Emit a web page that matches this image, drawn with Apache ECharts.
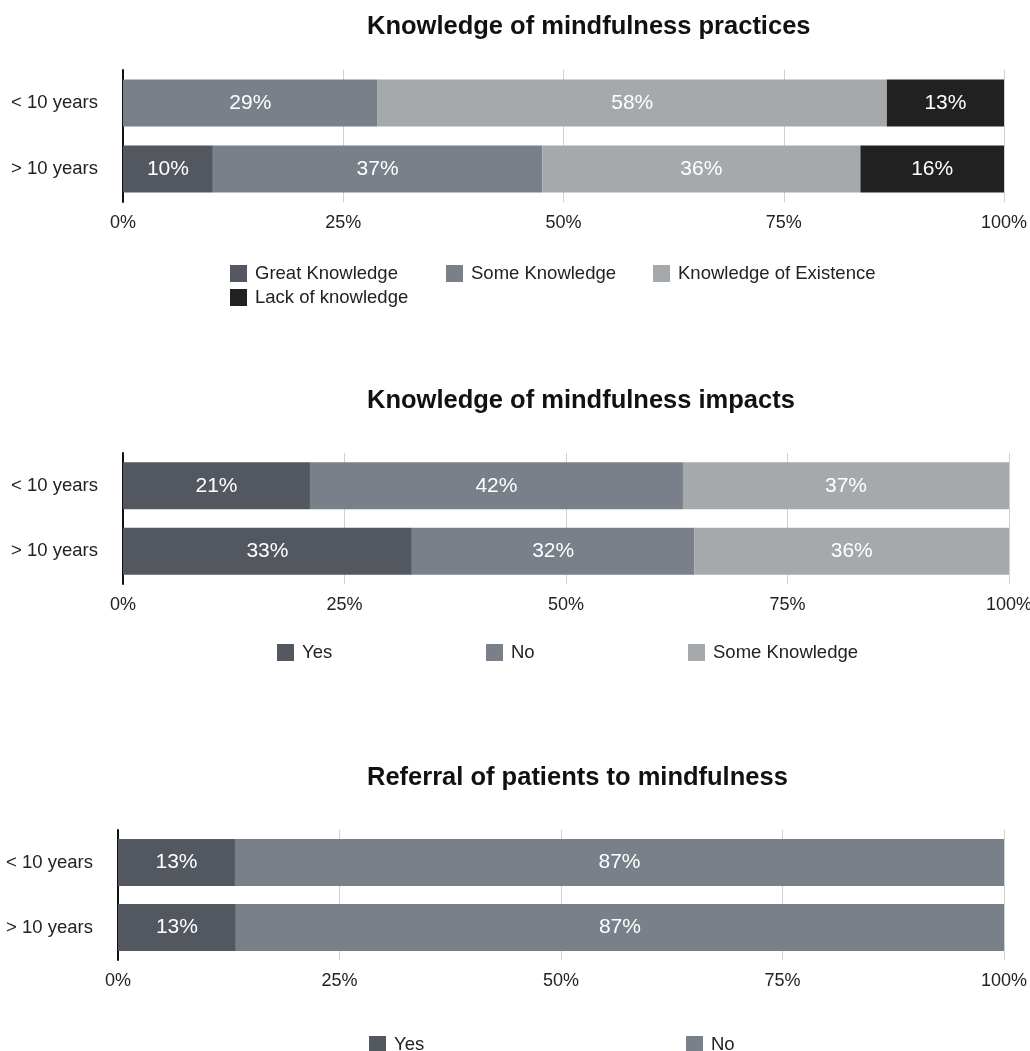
<!DOCTYPE html>
<html>
<head>
<meta charset="utf-8">
<script src="https://cdn.jsdelivr.net/npm/echarts@6/dist/echarts.min.js"></script>
<style>
  html, body { margin: 0; padding: 0; background: #fff; }
  #main { width: 1030px; height: 1051px; }
</style>
</head>
<body>
<div id="main"></div>
<script>
// data
var groups = ['< 10 years', '> 10 years'];
var ticks = [0, 25, 50, 75, 100];

var titles = [
	'Knowledge of mindfulness practices',
	'Knowledge of mindfulness impacts',
	'Referral of patients to mindfulness'
];

var practicesNames = ['Great Knowledge', 'Some Knowledge', 'Knowledge of Existence', 'Lack of knowledge'];
var practicesGreat = [0, 10.2];
var practicesSome = [28.9, 37.4];
var practicesExist = [57.8, 36.1];
var practicesLack = [13.3, 16.3];

var impactsNames = ['Yes', 'No', 'Some Knowledge'];
var impactsYes = [21.1, 32.6];
var impactsNo = [42.1, 31.9];
var impactsSome = [36.8, 35.5];

var referralNames = ['Yes', 'No'];
var referralYes = [13.2, 13.3];
var referralNo = [86.8, 86.7];

var cDark = '#535760', cMid = '#7a8089', cLight = '#a6a9ac', cBlack = '#212121';

var myChart = echarts.init(document.getElementById('main'));
var font = '"Liberation Sans", Arial, sans-serif';

// layout of the three panels
var panels = [
	{ gridLeft: 123, gridRight: 26, top: 70, height: 132, titleTop: 9,
	  names: practicesNames, values: [practicesGreat, practicesSome, practicesExist, practicesLack],
	  colors: [cDark, cMid, cLight, cBlack],
	  legend: [[225, 259], [441, 259], [648, 259], [225, 283]] },
	{ gridLeft: 123, gridRight: 21, top: 453, height: 131, titleTop: 383,
	  names: impactsNames, values: [impactsYes, impactsNo, impactsSome],
	  colors: [cDark, cMid, cLight],
	  legend: [[272, 638], [481, 638], [683, 638]] },
	{ gridLeft: 118, gridRight: 26, top: 830, height: 130, titleTop: 760,
	  names: referralNames, values: [referralYes, referralNo],
	  colors: [cDark, cMid],
	  legend: [[364, 1030], [681, 1030]] }
];

var title = [], grid = [], xAxis = [], yAxis = [], series = [], legend = [];

panels.forEach(function (p, i) {
	title.push({
		text: titles[i], left: 362, top: p.titleTop,
		textStyle: { fontFamily: font, fontSize: 25.5, fontWeight: 'bold', color: '#111' }
	});
	grid.push({
		left: p.gridLeft, right: p.gridRight, top: p.top, height: p.height,
		containLabel: false, outerBoundsMode: 'none'
	});
	xAxis.push({
		type: 'value', gridIndex: i, min: 0, max: 100, interval: 25,
		axisLine: { show: false }, axisTick: { show: false },
		splitLine: { lineStyle: { color: '#d0d0d0', width: 1 } },
		axisLabel: { formatter: '{value}%', fontFamily: font, fontSize: 18, color: '#222', margin: 12 }
	});
	yAxis.push({
		type: 'category', gridIndex: i, data: groups, inverse: true,
		axisLine: { show: true, lineStyle: { color: '#111', width: 2 } },
		axisTick: { show: false },
		axisLabel: { fontFamily: font, fontSize: 18.5, color: '#222', margin: 25 }
	});
	p.names.forEach(function (name, k) {
		series.push({
			name: name, type: 'bar', stack: 'p' + i,
			xAxisIndex: i, yAxisIndex: i,
			barWidth: 47,
			itemStyle: { color: p.colors[k] },
			label: {
				show: true, position: 'inside', color: '#fff',
				fontFamily: font, fontSize: 21,
				formatter: function (d) { return d.value > 0 ? Math.round(d.value) + '%' : ''; }
			},
			data: p.values[k]
		});
		legend.push({
			data: [{ name: name, itemStyle: { color: p.colors[k] } }],
			left: p.legend[k][0], top: p.legend[k][1],
			icon: 'rect', itemWidth: 17, itemHeight: 17, itemGap: 0,
			selectedMode: false,
			textStyle: { fontFamily: font, fontSize: 18.5, color: '#222', padding: [0, 0, 0, 3] }
		});
	});
});

var option = {
	backgroundColor: '#fff',
	animation: false,
	title: title,
	grid: grid,
	xAxis: xAxis,
	yAxis: yAxis,
	legend: legend,
	series: series
};

myChart.setOption(option);
</script>
</body>
</html>
